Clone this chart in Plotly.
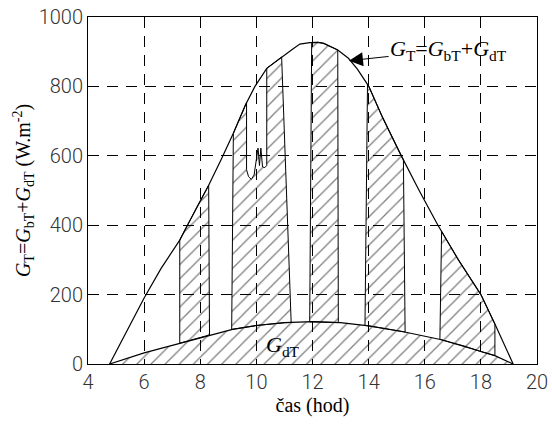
import numpy as np
import plotly.graph_objects as go

# G_T = G_bT + G_dT (total irradiance)
hours = [4.77, 5.4, 6.0, 6.6, 7.27, 7.51, 7.9, 8.3, 8.75, 9.18, 9.6, 9.95, 10.37,
         10.9, 11.3, 11.55, 11.9, 12.2, 12.4, 12.9, 13.28, 13.6, 14.0, 14.5,
         15.12, 15.8, 16.47, 17.2, 18.0, 18.5, 19.15]
g_total = [0, 95, 190, 275, 357, 395, 455, 515, 590, 665, 745, 800, 852,
           885, 908, 922, 926, 927, 924, 905, 881, 850, 801, 710,
           607, 500, 400, 300, 200, 115, 0]

# G_dT (diffuse irradiance)
hours_d = [4.77, 5.5, 6.0, 6.6, 7.27, 8.3, 9.15, 10.0, 11.0, 12.0, 13.0, 14.0,
           15.24, 16.6, 17.4, 18.0, 18.5, 19.15]
g_diffuse = [0, 20, 32, 45, 60, 83, 100, 111, 119, 122, 119, 110,
             93, 70, 52, 36, 24, 0]

# sunny intervals (hatched bands): start/end hours at top and bottom edge
band_start_top = [7.27, 9.18, 11.97, 13.96, 16.6]
band_start_bot = [7.27, 9.12, 11.90, 13.87, 16.54]
band_end_top = [8.30, 10.90, 12.90, 15.24, 18.5]
band_end_bot = [8.33, 11.24, 12.92, 15.30, 18.5]

# cloudy notch inside the second band
notch_hours = [9.65, 9.72, 9.82, 9.92, 10.00, 10.06, 10.11, 10.16, 10.22, 10.30, 10.37]
notch_values = [560, 540, 532, 545, 590, 622, 572, 622, 568, 566, 572]

x_ticks = [4, 6, 8, 10, 12, 14, 16, 18, 20]
y_ticks = [0, 200, 400, 600, 800, 1000]


def seg(a, b, xs_src, ys_src):
    xs = [a] + [h for h in xs_src if a < h < b] + [b]
    ys = list(np.interp(xs, xs_src, ys_src))
    return xs, ys


pattern = dict(shape="/", size=10, solidity=0.13, fgcolor="black",
               bgcolor="rgba(0,0,0,0)")

fig = go.Figure()

# diffuse region
fig.add_trace(go.Scatter(x=hours_d, y=g_diffuse, mode="lines", fill="tozeroy",
                         fillcolor="rgba(0,0,0,0)", fillpattern=pattern,
                         line=dict(color="black", width=1.2), showlegend=False,
                         hoverinfo="skip"))

for i in range(len(band_start_top)):
    a_t, a_b = band_start_top[i], band_start_bot[i]
    b_t, b_b = band_end_top[i], band_end_bot[i]
    if i == 1:
        x1, y1 = seg(a_t, notch_hours[0], hours, g_total)
        x2, y2 = seg(notch_hours[-1], b_t, hours, g_total)
        tx = x1 + list(notch_hours) + x2
        ty = y1 + list(notch_values) + y2
    else:
        tx, ty = seg(a_t, b_t, hours, g_total)
    bx, by = seg(a_b, b_b, hours_d, g_diffuse)
    px = tx + bx[::-1] + [tx[0]]
    py = ty + by[::-1] + [ty[0]]
    fig.add_trace(go.Scatter(x=px, y=py, mode="lines", fill="toself",
                             fillcolor="rgba(0,0,0,0)", fillpattern=pattern,
                             line=dict(color="black", width=1), showlegend=False,
                             hoverinfo="skip"))

# total curve
fig.add_trace(go.Scatter(x=hours, y=g_total, mode="lines",
                         line=dict(color="black", width=1.2), showlegend=False,
                         hoverinfo="skip"))

serif = "Liberation Serif"
fig.add_annotation(x=13.3, y=874, ax=16.85, ay=905, xref="x", yref="y",
                   axref="x", ayref="y",
                   text="<i>G</i><sub>T</sub>=<i>G</i><sub>bT</sub>+<i>G</i><sub>dT</sub>",
                   showarrow=True, arrowhead=2, arrowsize=2.8, arrowwidth=1,
                   arrowcolor="black", font=dict(family=serif, size=22, color="black"))
fig.add_annotation(x=10.95, y=52, xref="x", yref="y", showarrow=False,
                   text="<i>G</i><sub>dT</sub>",
                   font=dict(family=serif, size=22, color="black"))

axis_common = dict(showline=True, linecolor="black", linewidth=1, mirror=True,
                   ticks="inside", ticklen=5, tickcolor="black",
                   showgrid=True, gridcolor="black", gridwidth=1, griddash="11px,8px",
                   zeroline=False, automargin=False,
                   tickfont=dict(family="Roboto", size=20, color="#333", weight=300))

fig.update_xaxes(range=[4, 20], tickvals=x_ticks, **axis_common,
                 title=dict(text="čas (hod)", font=dict(family=serif, size=20, color="black"),
                            standoff=2))
fig.update_yaxes(range=[0, 1000], tickvals=y_ticks, **axis_common,
                 title=dict(text="<i>G</i><sub>T</sub>=<i>G</i><sub>bT</sub>+<i>G</i><sub>dT</sub> (W.m<sup>-2</sup>)",
                            font=dict(family=serif, size=20, color="black"), standoff=2))

fig.update_layout(width=552, height=426, margin=dict(l=88, r=15, t=17, b=62),
                  plot_bgcolor="white", paper_bgcolor="white")

fig.write_html("out.html", config={"displayModeBar": False},
               post_script="document.body.style.margin='0px';"
                           "document.body.style.overflow='hidden';")
